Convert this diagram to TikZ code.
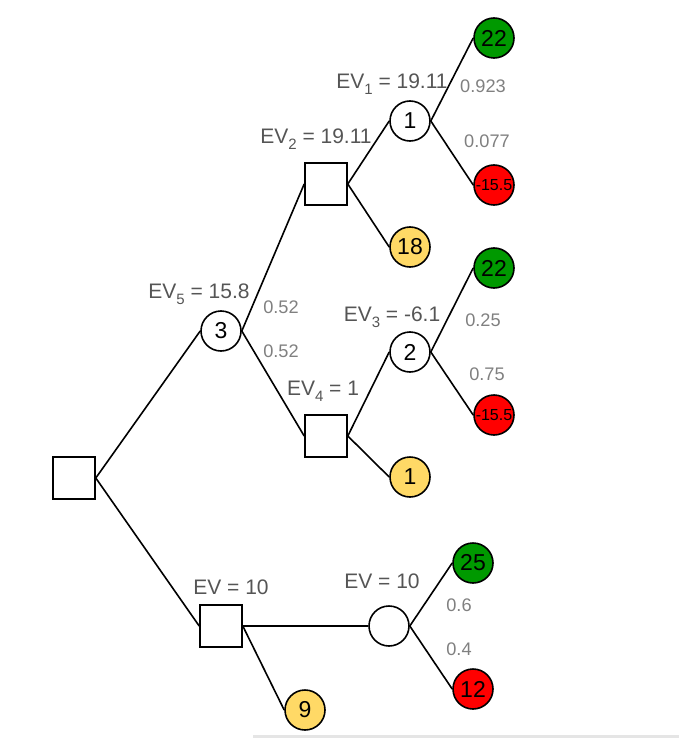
\documentclass[tikz,border=0pt]{standalone}
\usepackage{fontspec}
\setmainfont{Liberation Sans}
\definecolor{gwin}{HTML}{009900}
\definecolor{rloss}{HTML}{FF0000}
\definecolor{ymid}{HTML}{FFD966}
\definecolor{evgrey}{HTML}{555555}
\definecolor{prgrey}{HTML}{808080}
\newcommand{\evsb}[1]{\raisebox{-0.28em}{\fontsize{15}{15}\selectfont #1}}
\begin{document}
\begin{tikzpicture}[x=1pt,y=-1pt,
  decbox/.style={draw, line width=1.6pt, minimum size=42pt, inner sep=0pt, fill=white},
  chance/.style={circle, draw, line width=1.6pt, minimum size=40pt, inner sep=0pt, fill=white, font=\fontsize{23}{23}\selectfont},
  wingood/.style={chance, fill=gwin},
  winbad/.style={chance, fill=rloss},
  winmid/.style={chance, fill=ymid},
  small/.style={font=\fontsize{16}{16}\selectfont},
  evlab/.style={text=evgrey, font=\fontsize{21}{22}\selectfont, inner sep=0pt},
  prob/.style={text=prgrey, font=\fontsize{18.2}{19}\selectfont, inner sep=0pt},
  edge/.style={line width=1.6pt}]
\useasboundingbox (0,0) rectangle (679,738);
\fill[black!10] (253,735) rectangle (679,738);
% nodes
\node[decbox] (root) at (74,478) {};
\node[chance] (c3) at (221,331) {3};
\node[decbox] (d2) at (326,184) {};
\node[chance] (c1) at (410,121) {1};
\node[wingood] (g1) at (494,38) {22};
\node[winbad, small] (r1) at (494,185) {-15.5};
\node[winmid] (y1) at (410,247) {18};
\node[decbox] (d4) at (326,436) {};
\node[chance] (c2) at (410,352) {2};
\node[wingood] (g2) at (494,268) {22};
\node[winbad, small] (r2) at (494,415) {-15.5};
\node[winmid] (y2) at (410,477) {1};
\node[decbox] (d10) at (221,626) {};
\node[chance] (c0) at (389,626) {};
\node[wingood] (g3) at (473,563) {25};
\node[winbad] (r3) at (473,689) {12};
\node[winmid] (y3) at (305,710) {9};
% edges
\draw[edge] (root.east) -- (c3.west);
\draw[edge] (root.east) -- (d10.west);
\draw[edge] (c3.east) -- (d2.west);
\draw[edge] (c3.east) -- (d4.west);
\draw[edge] (d2.east) -- (c1.west);
\draw[edge] (d2.east) -- (y1.west);
\draw[edge] (c1.east) -- (g1.west);
\draw[edge] (c1.east) -- (r1.west);
\draw[edge] (d4.east) -- (c2.west);
\draw[edge] (d4.east) -- (y2.west);
\draw[edge] (c2.east) -- (g2.west);
\draw[edge] (c2.east) -- (r2.west);
\draw[edge] (d10.east) -- (c0.west);
\draw[edge] (d10.east) -- (y3.west);
\draw[edge] (c0.east) -- (g3.west);
\draw[edge] (c0.east) -- (r3.west);
% labels
\node[evlab] (l1) at (392,84) {EV\evsb{1} = 19.11};
\node[evlab] (l2) at (316,139) {EV\evsb{2} = 19.11};
\node[evlab] (l5) at (199,294) {EV\evsb{5} = 15.8};
\node[evlab] (l3) at (392,317) {EV\evsb{3} = -6.1};
\node[evlab] (l4) at (323,391) {EV\evsb{4} = 1};
\node[evlab] (l6) at (231,587) {EV = 10};
\node[evlab] (l7) at (382,581) {EV = 10};
\node[prob] (p1) at (483,86) {0.923};
\node[prob] (p2) at (487,141) {0.077};
\node[prob] (p3) at (281,307) {0.52};
\node[prob] (p4) at (281,351) {0.52};
\node[prob] (p5) at (483,320) {0.25};
\node[prob] (p6) at (487,374) {0.75};
\node[prob] (p7) at (459,605) {0.6};
\node[prob] (p8) at (459,649) {0.4};
\end{tikzpicture}
\end{document}
